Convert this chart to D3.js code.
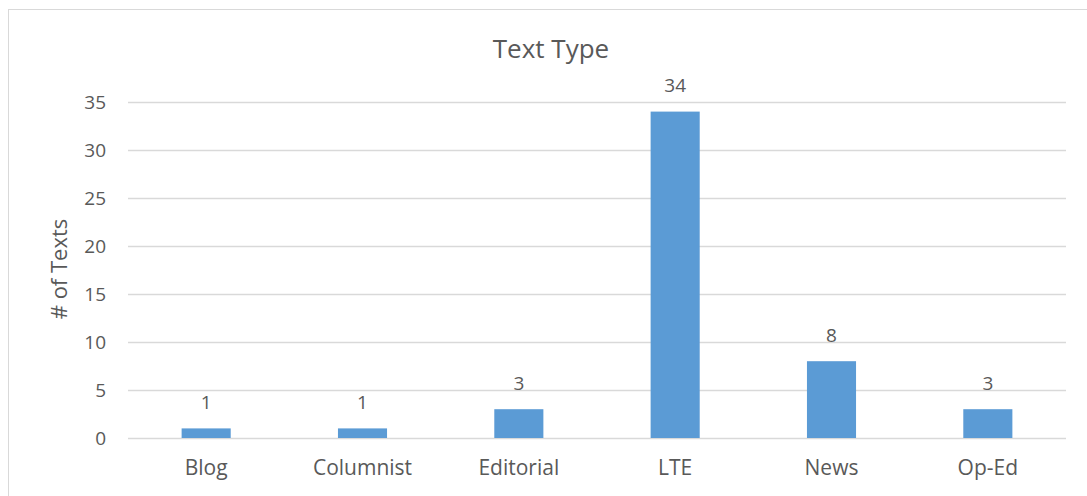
<!DOCTYPE html>
<html>
<head>
<meta charset="utf-8">
<script src="https://cdn.jsdelivr.net/npm/d3@7"></script>
<style>
  body { margin: 0; background: #fff; }
  svg text { font-family: "Open Sans", "Liberation Sans", sans-serif; fill: #595959; }
</style>
</head>
<body>
<svg id="chart" width="1087" height="496"></svg>
<script>
// Chart data
const categories = ['Blog', 'Columnist', 'Editorial', 'LTE', 'News', 'Op-Ed'];
const counts = [1, 1, 3, 34, 8, 3];
const yTicks = [0, 5, 10, 15, 20, 25, 30, 35];

const svg = d3.select('#chart');

// chart border (runs off right and bottom edges)
svg.append('rect')
    .attr('x', 8.5).attr('y', 9.5)
    .attr('width', 1100).attr('height', 500)
    .attr('fill', 'none')
    .attr('stroke', '#d9d9d9');

const plot = { left: 128, right: 1066, top: 102, bottom: 438 };

const x = d3.scaleBand()
    .domain(categories)
    .range([plot.left, plot.right])
    .paddingInner(0.686)
    .paddingOuter(0.343);

const y = d3.scaleLinear()
    .domain([0, 35])
    .range([plot.bottom, plot.top]);

// gridlines
svg.append('g')
    .selectAll('line')
    .data(yTicks)
    .join('line')
    .attr('x1', plot.left).attr('x2', plot.right)
    .attr('y1', (d) => Math.round(y(d)) + 0.5)
    .attr('y2', (d) => Math.round(y(d)) + 0.5)
    .attr('stroke', '#d9d9d9')
    .attr('stroke-width', 1.5);

// y tick labels
svg.append('g')
    .selectAll('text')
    .data(yTicks)
    .join('text')
    .attr('x', 106)
    .attr('y', (d) => y(d))
    .attr('dy', '0.35em')
    .attr('text-anchor', 'end')
    .attr('font-size', 19)
    .text((d) => d);

// bars
svg.append('g')
    .selectAll('rect')
    .data(counts)
    .join('rect')
    .attr('x', (d, i) => x(categories[i]))
    .attr('width', x.bandwidth())
    .attr('y', (d) => y(d))
    .attr('height', (d) => y(0) - y(d))
    .attr('fill', '#5b9bd5');

// value labels
svg.append('g')
    .selectAll('text')
    .data(counts)
    .join('text')
    .attr('x', (d, i) => x(categories[i]) + x.bandwidth() / 2)
    .attr('y', (d) => y(d) - 26)
    .attr('dy', '0.35em')
    .attr('text-anchor', 'middle')
    .attr('font-size', 19)
    .attr('fill', '#404040')
    .text((d) => d);

// category labels
svg.append('g')
    .selectAll('text')
    .data(categories)
    .join('text')
    .attr('x', (d) => x(d) + x.bandwidth() / 2)
    .attr('y', 468)
    .attr('dy', '0.35em')
    .attr('text-anchor', 'middle')
    .attr('font-size', 21)
    .text((d) => d);

// title
svg.append('text')
    .attr('x', 551).attr('y', 49)
    .attr('dy', '0.35em')
    .attr('text-anchor', 'middle')
    .attr('font-size', 26)
    .text('Text Type');

// y axis title
svg.append('text')
    .attr('transform', 'translate(59,269) rotate(-90)')
    .attr('dy', '0.35em')
    .attr('text-anchor', 'middle')
    .attr('font-size', 22)
    .text('# of Texts');
</script>
</body>
</html>
